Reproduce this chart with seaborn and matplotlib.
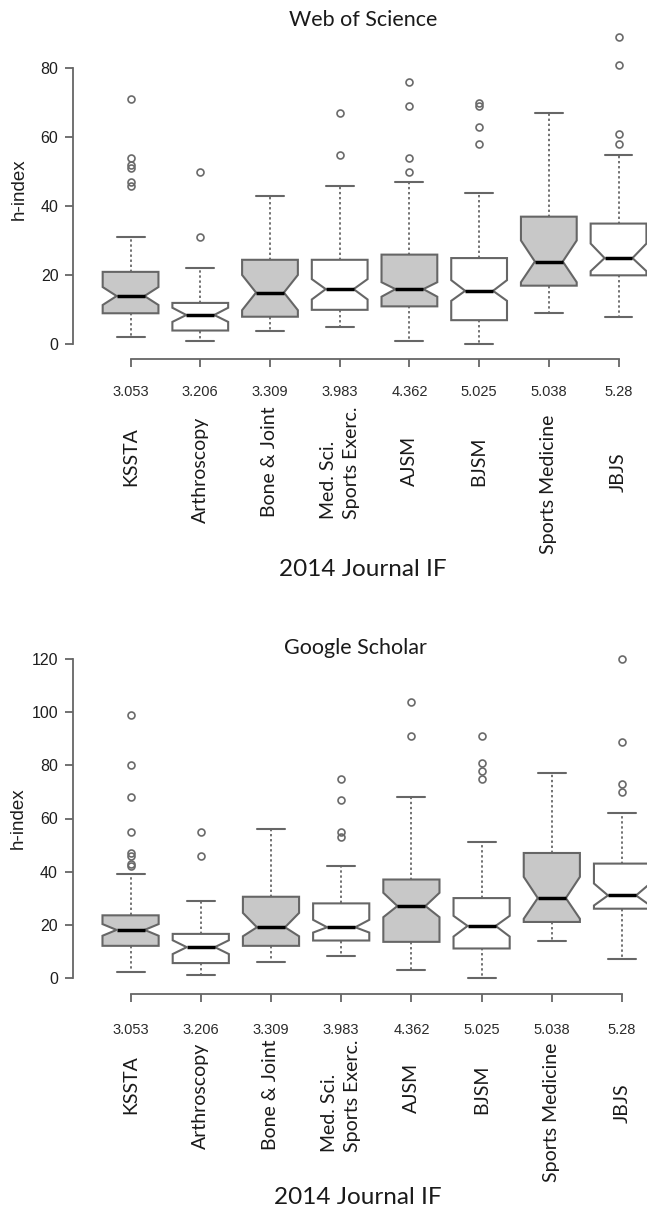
import matplotlib
matplotlib.use("Agg")
import matplotlib.pyplot as plt
import matplotlib.transforms as mtransforms
import seaborn as sns

# ---------------- data ----------------
journals = ["KSSTA", "Arthroscopy", "Bone & Joint", "Med. Sci.\nSports Exerc.",
            "AJSM", "BJSM", "Sports Medicine", "JBJS"]
impact_factors = ["3.053", "3.206", "3.309", "3.983", "4.362", "5.025", "5.038", "5.28"]
shaded = [True, False, True, False, True, False, True, False]

# Web of Science h-index
wos_whislo = [2, 1, 4, 5, 1, 0, 9, 8]
wos_q1 = [9, 4, 8, 10, 11, 7, 17, 20]
wos_cilo = [11.4, 6.5, 9.9, 13.0, 13.8, 12.6, 18.0, 21.2]
wos_med = [14, 8.5, 15, 16, 16, 15.5, 24, 25]
wos_cihi = [16.6, 10.6, 20.1, 18.9, 18.0, 18.6, 30.1, 29.2]
wos_q3 = [21, 12, 24.5, 24.5, 26, 25, 37, 35]
wos_whishi = [31, 22, 43, 46, 47, 44, 67, 55]
wos_fliers = [[71, 54, 52, 51, 47, 46], [50, 31], [], [67, 55],
              [76, 69, 54, 50], [70, 69, 63, 58], [], [89, 81, 61, 58]]
wos_yticks = [0, 20, 40, 60, 80]

# Google Scholar h-index
gs_whislo = [2, 1, 6, 8, 3, 0, 14, 7]
gs_q1 = [12, 5.5, 12, 14, 13.5, 11, 21, 26]
gs_cilo = [15.8, 8.9, 15.6, 17.0, 22.8, 15.5, 22.2, 27.2]
gs_med = [18, 11.5, 19, 19, 27, 19.5, 30, 31]
gs_cihi = [20.2, 14.1, 24.4, 21.8, 32.0, 23.3, 38.0, 35.5]
gs_q3 = [23.5, 16.5, 30.5, 28, 37, 30, 47, 43]
gs_whishi = [39, 29, 56, 42, 68, 51, 77, 62]
gs_fliers = [[99, 80, 68, 55, 47, 46, 43, 42], [55, 46], [], [75, 67, 55, 53],
             [104, 91], [91, 81, 78, 75], [], [120, 89, 73, 70]]
gs_yticks = [0, 20, 40, 60, 80, 100, 120]

# ---------------- style ----------------
sns.set_theme(style="ticks")
plt.rcParams["font.family"] = ["Liberation Sans", "DejaVu Sans"]
TITLE_FONT = ["Lato", "DejaVu Sans"]
TXT = "#1a1a1a"
EDGE = "#666666"
FILL = "#c8c8c8"

W, H = 647, 1209
fig = plt.figure(figsize=(W / 100, H / 100), dpi=100)
fig.patch.set_facecolor("white")

panels = [
    dict(title="Web of Science", whislo=wos_whislo, q1=wos_q1, cilo=wos_cilo, med=wos_med,
         cihi=wos_cihi, q3=wos_q3, whishi=wos_whishi, fliers=wos_fliers, yticks=wos_yticks,
         box=(73.4, 675.7, 356.6, 25.0), title_xy=(363, 20), ylab_xy=(19.5, 189),
         xpad=12.5, spine_out=1.8,
         name_y=[457, 470, 462, 463, 461, 461, 484, 472], xlab_xy=(363, 570)),
    dict(title="Google Scholar", whislo=gs_whislo, q1=gs_q1, cilo=gs_cilo, med=gs_med,
         cihi=gs_cihi, q3=gs_q3, whishi=gs_whishi, fliers=gs_fliers, yticks=gs_yticks,
         box=(73.0, 679.6, 990.4, 646.6), title_xy=(355, 648), ylab_xy=(18.5, 818),
         xpad=15.5, spine_out=2.5,
         name_y=[1085, 1096, 1095, 1096, 1088, 1089, 1112, 1103], xlab_xy=(358, 1198)),
]

for p in panels:
    left, right, bottom, top = p["box"]
    ax = fig.add_axes([left / W, 1 - bottom / H, (right - left) / W, (bottom - top) / H])
    ax.set_facecolor("white")
    n = len(journals)
    stats = []
    for i in range(n):
        stats.append(dict(med=p["med"][i], q1=p["q1"][i], q3=p["q3"][i],
                          whislo=p["whislo"][i], whishi=p["whishi"][i],
                          cilo=p["cilo"][i], cihi=p["cihi"][i],
                          fliers=p["fliers"][i], label=journals[i]))
    positions = list(range(1, n + 1))
    art = ax.bxp(stats, positions=positions, widths=0.8, shownotches=True,
                 patch_artist=True, manage_ticks=False,
                 boxprops=dict(edgecolor=EDGE, linewidth=1.5),
                 medianprops=dict(color="black", linewidth=2.5, solid_capstyle="butt"),
                 whiskerprops=dict(color=EDGE, linewidth=1.3, linestyle=(0, (1.3, 1.5))),
                 capprops=dict(color=EDGE, linewidth=1.5),
                 flierprops=dict(marker="o", markerfacecolor="none", markeredgecolor="#6a6a6a",
                                 markersize=5.0, markeredgewidth=1.2, linestyle="none"))
    for b, s in zip(art["boxes"], shaded):
        b.set_facecolor(FILL if s else "white")

    # R-like scales (4% extension)
    allv = p["whislo"] + p["whishi"] + [v for f in p["fliers"] for v in f]
    lo, hi = min(allv), max(allv)
    r = hi - lo
    ax.set_ylim(lo - 0.04 * r, hi + 0.04 * r)
    ax.set_xlim(0.5 - 0.04 * n, n + 0.5 + 0.04 * n)

    ax.set_yticks(p["yticks"])
    ax.set_yticklabels([str(t) for t in p["yticks"]])
    ax.set_xticks(positions)
    ax.set_xticklabels(impact_factors)

    sns.despine(ax=ax, top=True, right=True)
    ax.spines["left"].set_bounds(p["yticks"][0], p["yticks"][-1])
    ax.spines["bottom"].set_bounds(positions[0], positions[-1])
    ax.spines["bottom"].set_position(("outward", p["spine_out"]))
    for sp in ("left", "bottom"):
        ax.spines[sp].set_color(EDGE)
        ax.spines[sp].set_linewidth(1.3)
    ax.tick_params(axis="y", direction="out", length=5.8, width=1.3, color=EDGE,
                   labelsize=11.5, labelcolor="#1e1e1e", pad=5.0)
    ax.tick_params(axis="x", direction="out", length=5.8, width=1.3, color=EDGE,
                   labelsize=10.5, labelcolor="#2a2a2a", pad=p["xpad"])
    ax.grid(False)

    # titles and labels
    fig.text(p["title_xy"][0] / W, 1 - p["title_xy"][1] / H, p["title"],
             family=TITLE_FONT, fontsize=15.5, color=TXT, ha="center", va="center")
    fig.text(p["ylab_xy"][0] / W, 1 - p["ylab_xy"][1] / H, "h-index",
             fontsize=13.5, color="#1e1e1e", rotation=90, ha="center", va="center")
    trans = mtransforms.blended_transform_factory(ax.transData, fig.transFigure)
    for i, name in enumerate(journals):
        ax.text(positions[i], 1 - p["name_y"][i] / H, name, transform=trans,
                family=TITLE_FONT, fontsize=14, color=TXT, rotation=90,
                ha="center", va="center", multialignment="left", linespacing=1.45,
                clip_on=False)
    fig.text(p["xlab_xy"][0] / W, 1 - p["xlab_xy"][1] / H, "2014 Journal IF",
             family=TITLE_FONT, fontsize=17.5, color=TXT, ha="center", va="center")

fig.savefig("out.png", dpi=100, facecolor="white")
